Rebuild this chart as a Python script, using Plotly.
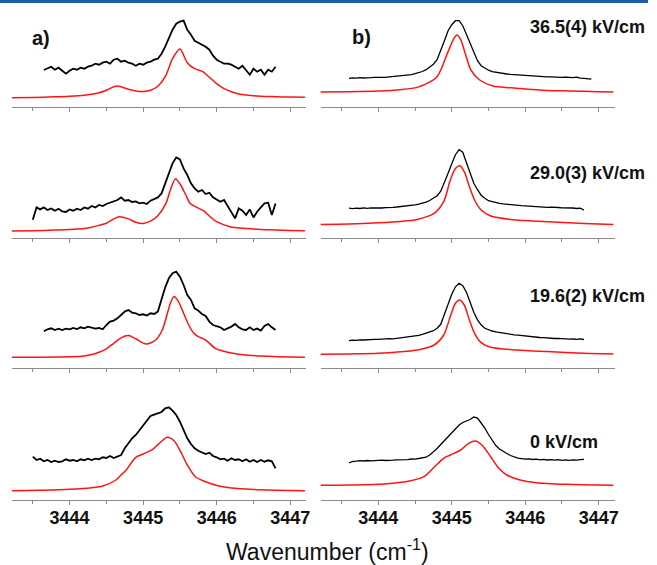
import plotly.graph_objects as go

FIG_W, FIG_H = 657, 565
FONT = "Liberation Sans, Arial, sans-serif"

# Wavenumber range shared by every panel (cm^-1)
X_RANGE = [3443.216, 3447.216]

# Sampling grid of the measured spectra (cm^-1)
MEAS_X = [3443.50, 3443.55, 3443.60, 3443.65, 3443.70, 3443.75, 3443.80, 3443.85, 3443.90, 3443.95,
          3444.00, 3444.05, 3444.10, 3444.15, 3444.20, 3444.25, 3444.30, 3444.35, 3444.40, 3444.45,
          3444.50, 3444.55, 3444.60, 3444.65, 3444.70, 3444.75, 3444.80, 3444.85, 3444.90, 3444.95,
          3445.00, 3445.05, 3445.10, 3445.15, 3445.20, 3445.25, 3445.30, 3445.35, 3445.40, 3445.45,
          3445.50, 3445.55, 3445.60, 3445.65, 3445.70, 3445.75, 3445.80, 3445.85, 3445.90, 3445.95,
          3446.00, 3446.05, 3446.10, 3446.15, 3446.20, 3446.25, 3446.30, 3446.35, 3446.40, 3446.45,
          3446.50, 3446.55, 3446.60, 3446.65, 3446.70, 3446.75, 3446.80, 3446.85, 3446.90]

# ---- a) measured spectra (offset intensity, arb. units) ----
A1_START = 3443.65
A1_MEAS = [36.7, 38, 40, 37, 39, 36, 33, 36, 38, 37,
           39, 38, 40, 41, 43, 42, 44, 45, 43, 47,
           48, 45, 46, 44, 43, 41, 43, 42, 44, 45,
           47, 48, 53, 60, 68, 77, 83, 85, 86, 77,
           72, 66, 64, 62, 60, 57, 51, 47, 45, 43,
           43, 42, 40, 38, 41, 36, 32, 38, 35, 37,
           32, 37, 35, 40]
A2_START = 3443.50
A2_MEAS = [18, 30.3, 28.3, 30.3, 27.7, 29.3, 27, 29, 26.3, 25.7,
           28.3, 27, 29, 27.7, 30.3, 29, 31.7, 30.3, 32.7, 31.7,
           33.7, 35, 36.3, 37.7, 40.3, 37, 37.7, 35.7, 36.3, 34.3,
           35, 33.7, 37, 38.3, 40.3, 44.3, 54.3, 64.3, 74.3, 80.3,
           78.3, 69.3, 62.7, 54.3, 49.3, 46, 47.7, 43.7, 45, 40.3,
           38.3, 36, 37.7, 31.7, 26, 19.3, 29.3, 27, 22.7, 28.3,
           20.3, 26, 30.3, 34.3, 35, 22.7, 34.3]
A3_START = 3443.65
A3_MEAS = [37, 39, 40, 38.3, 39.7, 38.3, 39.7, 39, 40.3, 39.3,
           41, 40, 41.7, 40.3, 39.7, 40.3, 39, 43.3, 46.7, 47.7,
           50, 53.3, 56.7, 58.3, 55.7, 55, 53.3, 54, 52.7, 55,
           54.3, 56.7, 70, 81, 90, 95, 96.7, 91.7, 83.3, 73.3,
           68.3, 60, 57.7, 54.3, 52.3, 46.7, 43.3, 42.3, 41, 38.3,
           40, 41.7, 44.3, 41, 39, 38.3, 41, 38.3, 39.7, 37.7,
           42.3, 44.3, 41, 38.3]
A4_START = 3443.50
A4_MEAS = [43.3, 40, 41.3, 38.7, 40, 38, 39.3, 38, 38.7, 40.7,
           39.3, 40, 38.7, 40.7, 39.7, 41.3, 40, 41.3, 40.7, 42.7,
           42, 44, 42, 43.3, 45, 51.7, 57.3, 61.7, 65, 70,
           74, 80, 84, 85.3, 86.7, 88, 91.7, 92.7, 89.3, 85,
           78.3, 70.7, 61.7, 56, 51.7, 49.3, 47.3, 46, 47.3, 44,
           42.7, 40.7, 41.3, 39.3, 41.7, 40, 40.7, 38.7, 40.7, 38.3,
           40, 38, 40, 38.3, 39.7, 38.7, 31.7]

# ---- b) measured spectra ----
B1_START = 3443.60
B1_MEAS = [28.3, 28.8, 28.5, 29.0, 28.7, 29.2, 29.0, 29.4, 29.2, 29.6,
           29.4, 29.9, 30.2, 30.5, 31.0, 31.3, 31.5, 32.0, 33.0, 34.0,
           35.2, 37.0, 39.5, 42.5, 47, 56, 66, 76, 82, 86,
           86, 81, 72, 63, 54, 46, 41, 38.5, 36.5, 35,
           34.3, 33.5, 33, 32.7, 32.3, 32, 31.6, 31.4, 31, 30.8,
           30.5, 30.3, 30.2, 30, 29.8, 29.8, 29.5, 29.6, 29.3, 29.5,
           29.2, 29.0, 29.6, 28.5, 28.4, 27.8, 27.5]
B2_START = 3443.60
B2_MEAS = [29.5, 29.0, 29.6, 29.2, 29.8, 29.4, 29.9, 29.6, 30.0, 29.7,
           30.1, 29.9, 30.4, 30.7, 31.0, 31.3, 31.5, 32.0, 32.8, 33.5,
           34.3, 35.5, 37.2, 39.5, 42.0, 46.5, 55, 64.5, 74, 83,
           88, 85.5, 75, 65, 54.5, 48, 42.5, 39.5, 37, 36,
           35, 34.3, 33.8, 33.3, 33, 32.6, 32.3, 32, 31.8, 31.5,
           31.2, 31.0, 30.7, 30.6, 30.3, 30.5, 30.0, 30.2, 29.8, 29.9,
           29.5, 29.7, 29.2, 29.6, 27.5]
B3_START = 3443.60
B3_MEAS = [27.7, 28.2, 27.9, 28.5, 28.3, 28.7, 28.5, 29.0, 28.9, 29.3,
           29.1, 29.6, 29.5, 30.0, 30.3, 30.7, 31.2, 31.7, 32.3, 33.0,
           34, 35, 36.3, 37.6, 40, 44, 54, 64, 74, 81.5,
           85, 82.5, 76, 66, 56, 48.5, 43.5, 40, 38.5, 37.3,
           36.5, 35.8, 35.0, 34.5, 34.0, 33.5, 33.2, 32.7, 32.3, 31.9,
           31.5, 31.2, 30.8, 30.6, 30.2, 30.3, 29.8, 29.9, 29.4, 29.6,
           29.1, 29.3, 29.0, 29.5, 28.8]
B4_START = 3443.60
B4_MEAS = [37, 38.5, 38.8, 39.3, 39.0, 39.5, 39.1, 39.6, 39.4, 39.9,
           39.5, 40.0, 39.8, 40.2, 40.0, 40.5, 40.3, 41.0, 40.8, 41.5,
           42.0, 42.8, 45, 48, 51.5, 55.5, 59.5, 64, 68, 71.5,
           75, 77.5, 79, 80.5, 83, 82, 77, 72, 65.5, 60.5,
           54.5, 51, 48.3, 46.5, 44.5, 43, 41.8, 41.3, 40.8, 41.2,
           40.5, 40.9, 40.2, 40.6, 40.0, 40.4, 39.8, 40.3, 39.7, 40.2,
           39.6, 40.1, 39.8, 40.3, 40.7]

# ---- simulated spectra (x in cm^-1, y in the same arb. units) ----
A1_SIM_X = [3443.2, 3443.5, 3443.8, 3444.0, 3444.2, 3444.3, 3444.4, 3444.5, 3444.6, 3444.65,
            3444.7, 3444.8, 3444.9, 3445.0, 3445.1, 3445.2, 3445.3, 3445.4, 3445.5, 3445.6,
            3445.7, 3445.8, 3445.9, 3446.0, 3446.1, 3446.2, 3446.3, 3446.4, 3446.6, 3446.8,
            3447.0, 3447.2]
A1_SIM_Y = [9, 9.3, 9.9, 10.5, 11.5, 12.5, 14, 16.5, 20, 20.7,
            20, 17.5, 15.8, 15.3, 16.5, 20.5, 30, 48, 57.7, 44,
            38, 35.5, 29.5, 23, 18, 15, 12.8, 11.7, 10.5, 10,
            9.6, 9.4]
A2_SIM_X = [3443.2, 3443.5, 3443.8, 3444.0, 3444.2, 3444.3, 3444.4, 3444.5, 3444.6, 3444.68,
            3444.8, 3444.9, 3445.0, 3445.1, 3445.2, 3445.31, 3445.37, 3445.44, 3445.51, 3445.58,
            3445.64, 3445.73, 3445.82, 3445.91, 3446.0, 3446.18, 3446.4, 3446.6, 3446.8, 3447.0,
            3447.2]
A2_SIM_Y = [6.7, 7.0, 7.6, 8.2, 9.3, 10.5, 12.3, 14.5, 18.8, 21,
            18.8, 15.5, 14.3, 16.5, 22, 34.3, 47.7, 59, 52.7, 42.7,
            34.3, 30.3, 27, 21, 16, 11, 9.2, 8.3, 7.8, 7.3,
            7]
A3_SIM_X = [3443.2, 3443.6, 3444.0, 3444.2, 3444.3, 3444.4, 3444.5, 3444.6, 3444.7, 3444.8,
            3444.9, 3445.04, 3445.17, 3445.26, 3445.33, 3445.37, 3445.42, 3445.48, 3445.55, 3445.62,
            3445.69, 3445.75, 3445.85, 3445.98, 3446.1, 3446.2, 3446.4, 3446.7, 3447.0, 3447.2]
A3_SIM_Y = [11, 11.1, 11.5, 12.3, 13.7, 16, 19.5, 25, 30.5, 32.7,
            29.5, 24.3, 28.3, 38.3, 55, 65, 71.7, 66.7, 55, 43.3,
            35, 31.7, 28.3, 20, 17, 15.3, 13.2, 12, 11.3, 11]
A4_SIM_X = [3443.2, 3443.6, 3444.0, 3444.3, 3444.45, 3444.63, 3444.7, 3444.77, 3444.9, 3445.0,
            3445.13, 3445.22, 3445.33, 3445.42, 3445.51, 3445.6, 3445.71, 3445.85, 3446.03, 3446.2,
            3446.5, 3446.8, 3447.2]
A4_SIM_Y = [9.3, 9.8, 10.7, 12.3, 14, 20, 25, 30, 42.7, 46,
            50.7, 56.7, 62.7, 59.3, 48.3, 35, 23.3, 18.3, 14, 12,
            10.5, 9.8, 9.3]
B1_SIM_X = [3443.2, 3443.6, 3444.0, 3444.3, 3444.53, 3444.71, 3444.8, 3444.85, 3444.94, 3445.03,
            3445.07, 3445.12, 3445.19, 3445.26, 3445.38, 3445.56, 3445.8, 3446.0, 3446.3, 3446.6,
            3447.0, 3447.2]
B1_SIM_Y = [14.7, 15, 15.7, 17, 19.3, 25, 30, 36.7, 53.3, 68.3,
            71.7, 67.3, 51.7, 36.7, 26.7, 20.7, 19, 17.7, 16.3, 15.7,
            15, 14.7]
B2_SIM_X = [3443.2, 3443.6, 3444.0, 3444.3, 3444.53, 3444.76, 3444.89, 3444.98, 3445.05, 3445.11,
            3445.17, 3445.24, 3445.31, 3445.40, 3445.53, 3445.8, 3446.1, 3446.8, 3447.2]
B2_SIM_Y = [13.3, 13.8, 15, 16.3, 18.3, 24.3, 36, 57.7, 69.3, 72,
            66, 51, 37.7, 27.7, 21.7, 18.3, 16.7, 14.3, 13.3]
B3_SIM_X = [3443.2, 3443.6, 3444.0, 3444.3, 3444.53, 3444.76, 3444.89, 3444.98, 3445.05, 3445.11,
            3445.17, 3445.24, 3445.31, 3445.40, 3445.53, 3445.89, 3446.3, 3446.8, 3447.2]
B3_SIM_Y = [14, 14.4, 15, 16.5, 18.3, 23.3, 33.3, 51.7, 65, 68.3,
            63.3, 48.3, 35, 25.7, 21, 18.3, 16.7, 15, 14.3]
B4_SIM_X = [3443.2, 3443.6, 3444.08, 3444.44, 3444.62, 3444.76, 3444.89, 3444.98, 3445.12, 3445.23,
            3445.32, 3445.41, 3445.53, 3445.64, 3445.75, 3445.93, 3446.15, 3446.56, 3447.2]
B4_SIM_Y = [14.7, 15, 16, 19.3, 23.3, 32.7, 41.7, 45, 50, 56.7,
            59, 55, 43.3, 31.7, 25, 20, 17.3, 15.7, 14.7]

FIELD_LABELS = ["36.5(4) kV/cm", "29.0(3) kV/cm", "19.6(2) kV/cm", "0 kV/cm"]
TICK_VALS = [3444, 3445, 3446, 3447]

# panel order: row by row, left (a) then right (b)
PANELS = [
    (A1_START, A1_MEAS, A1_SIM_X, A1_SIM_Y), (B1_START, B1_MEAS, B1_SIM_X, B1_SIM_Y),
    (A2_START, A2_MEAS, A2_SIM_X, A2_SIM_Y), (B2_START, B2_MEAS, B2_SIM_X, B2_SIM_Y),
    (A3_START, A3_MEAS, A3_SIM_X, A3_SIM_Y), (B3_START, B3_MEAS, B3_SIM_X, B3_SIM_Y),
    (A4_START, A4_MEAS, A4_SIM_X, A4_SIM_Y), (B4_START, B4_MEAS, B4_SIM_X, B4_SIM_Y),
]

# layout geometry in pixels
COL_X = [(12.0, 308.0), (322.7, 618.3)]
ROW_AXIS_Y = [106.7, 237.7, 368.3, 500.0]
PANEL_H = 100.0


def px_x(p):
    return p / FIG_W


def px_y(p):
    return 1 - p / FIG_H


def meas_x(start, values):
    i0 = min(range(len(MEAS_X)), key=lambda i: abs(MEAS_X[i] - start))
    return MEAS_X[i0:i0 + len(values)]


fig = go.Figure()
layout = {}
for i, (start, meas, sim_x, sim_y) in enumerate(PANELS):
    n = i + 1
    row, col = divmod(i, 2)
    xa = "x" if n == 1 else f"x{n}"
    ya = "y" if n == 1 else f"y{n}"
    fig.add_trace(go.Scatter(
        x=sim_x, y=sim_y, xaxis=xa, yaxis=ya, mode="lines",
        line=dict(color="#ff1414", width=1.5, shape="spline", smoothing=0.8),
        hoverinfo="skip", showlegend=False))
    fig.add_trace(go.Scatter(
        x=meas_x(start, meas), y=meas, xaxis=xa, yaxis=ya, mode="lines",
        line=dict(color="#000000", width=1.8 if col == 0 else 1.3),
        hoverinfo="skip", showlegend=False))

    bottom = row == 3
    layout["xaxis" if n == 1 else f"xaxis{n}"] = dict(
        domain=[px_x(COL_X[col][0]), px_x(COL_X[col][1])],
        anchor=ya, range=X_RANGE, showgrid=False, zeroline=False,
        showline=True, linecolor="#8a8a8a", linewidth=1,
        ticks="outside", ticklen=4, tickwidth=1, tickcolor="#8a8a8a",
        tickvals=TICK_VALS, showticklabels=bottom, ticklabelstandoff=-3,
        tickfont=dict(family=FONT, size=18, color="#111111", weight="bold"),
        minor=dict(dtick=0.5, tick0=3443.5, ticks="outside", ticklen=3,
                   tickcolor="#8a8a8a", tickwidth=1, showgrid=False),
    )
    layout["yaxis" if n == 1 else f"yaxis{n}"] = dict(
        domain=[px_y(ROW_AXIS_Y[row]), px_y(ROW_AXIS_Y[row] - PANEL_H)],
        anchor=xa, range=[0, PANEL_H], visible=False,
    )

annotations = [
    dict(text="a)", x=px_x(41), y=px_y(38), font=dict(size=20, weight="bold")),
    dict(text="b)", x=px_x(364), y=px_y(37.5), font=dict(size=20, weight="bold")),
]
for label, cy in zip(FIELD_LABELS, [27.5, 173.3, 295.5, 442.0]):
    annotations.append(dict(text=label, x=px_x(531), y=px_y(cy), xanchor="left",
                            font=dict(size=18, weight="bold")))
annotations.append(dict(text="Wavenumber (cm<sup>-1</sup>)", x=px_x(329.5), y=px_y(550),
                        font=dict(size=23)))
for a in annotations:
    a.setdefault("xanchor", "center")
    a.update(xref="paper", yref="paper", yanchor="middle", showarrow=False)
    a["font"].update(family=FONT, color="#111111")

fig.update_layout(
    width=FIG_W, height=FIG_H,
    margin=dict(l=0, r=0, t=0, b=0),
    paper_bgcolor="white", plot_bgcolor="white",
    annotations=annotations,
    shapes=[dict(type="rect", xref="paper", yref="paper",
                 x0=0, x1=px_x(652), y0=px_y(3), y1=1,
                 fillcolor="#1f5ca6", line=dict(width=0), layer="above")],
    **layout,
)

fig.write_html("out.html", config={"displayModeBar": False})
